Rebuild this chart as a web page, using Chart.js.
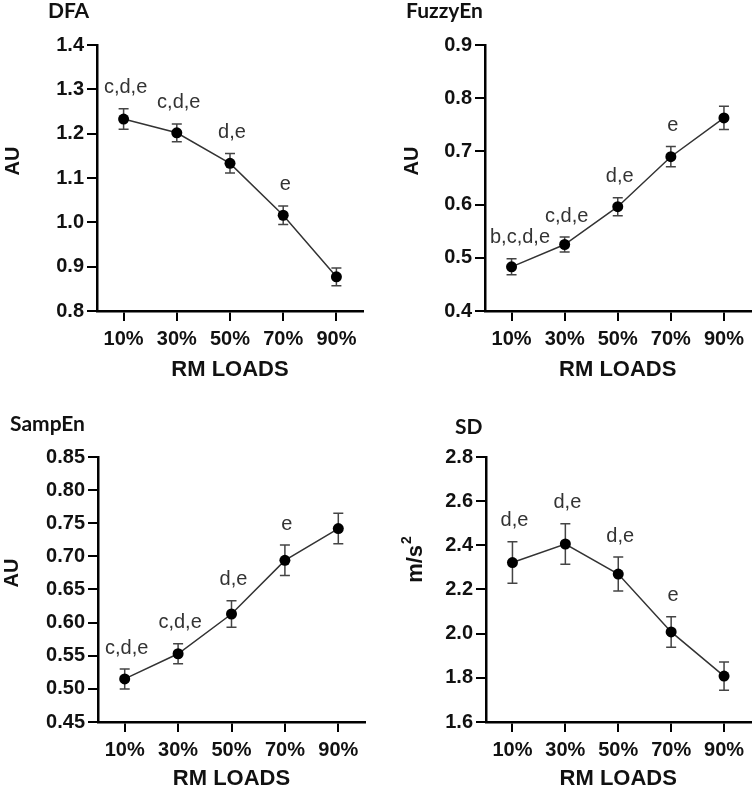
<!DOCTYPE html>
<html>
<head>
<meta charset="utf-8">
<script src="https://cdn.jsdelivr.net/npm/chart.js@4.4.1/dist/chart.umd.min.js"></script>
<style>
  body { margin: 0; background: #fff; }
  #wrap { position: relative; width: 756px; height: 789px; }
  canvas { position: absolute; }
</style>
</head>
<body>
<div id="wrap">
  <canvas id="c1" width="378" height="390" style="left:0;top:0"></canvas>
  <canvas id="c2" width="378" height="390" style="left:378px;top:0"></canvas>
  <canvas id="c3" width="378" height="399" style="left:0;top:390px"></canvas>
  <canvas id="c4" width="378" height="399" style="left:378px;top:390px"></canvas>
</div>
<script>
// categories
const loads = ["10%", "30%", "50%", "70%", "90%"];

// DFA
const dfaMean = [1.233, 1.202, 1.133, 1.016, 0.877];
const dfaErr = [0.023, 0.020, 0.022, 0.021, 0.020];
const dfaSig = ["c,d,e", "c,d,e", "d,e", "e", ""];
const dfaTicks = [0.8, 0.9, 1.0, 1.1, 1.2, 1.3, 1.4];

// FuzzyEn
const fuzzyMean = [0.483, 0.525, 0.596, 0.690, 0.763];
const fuzzyErr = [0.015, 0.014, 0.017, 0.019, 0.022];
const fuzzySig = ["b,c,d,e", "c,d,e", "d,e", "e", ""];
const fuzzyTicks = [0.4, 0.5, 0.6, 0.7, 0.8, 0.9];

// SampEn
const sampMean = [0.515, 0.553, 0.613, 0.694, 0.742];
const sampErr = [0.015, 0.015, 0.020, 0.023, 0.023];
const sampSig = ["c,d,e", "c,d,e", "d,e", "e", ""];
const sampTicks = [0.45, 0.50, 0.55, 0.60, 0.65, 0.70, 0.75, 0.80, 0.85];

// SD
const sdMean = [2.322, 2.406, 2.270, 2.008, 1.808];
const sdErr = [0.094, 0.092, 0.077, 0.069, 0.064];
const sdSig = ["d,e", "d,e", "d,e", "e", ""];
const sdTicks = [1.6, 1.8, 2.0, 2.2, 2.4, 2.6, 2.8];

const FONT = "'Liberation Sans', Arial, sans-serif";
const TITLE_FONT = "Lato, 'Open Sans', sans-serif";

// draws error bars, panel title, y title and the letters above points
function panelPlugin(p) {
  return {
    id: "panel",
    beforeDatasetsDraw(chart) {
      const { ctx, scales: { x, y } } = chart;
      ctx.save();
      ctx.strokeStyle = "#444";
      ctx.lineWidth = 1.5;
      p.mean.forEach((m, i) => {
        const px = x.getPixelForValue(i);
        const top = y.getPixelForValue(m + p.err[i]);
        const bot = y.getPixelForValue(m - p.err[i]);
        ctx.beginPath();
        ctx.moveTo(px, top); ctx.lineTo(px, bot);
        ctx.moveTo(px - 5, top); ctx.lineTo(px + 5, top);
        ctx.moveTo(px - 5, bot); ctx.lineTo(px + 5, bot);
        ctx.stroke();
      });
      ctx.restore();
    },
    afterDraw(chart) {
      const { ctx, chartArea, scales: { x, y } } = chart;
      ctx.save();
      // panel title
      ctx.fillStyle = "#111";
      ctx.font = "bold 21px " + TITLE_FONT;
      ctx.textAlign = "left";
      ctx.textBaseline = "middle";
      ctx.fillText(p.title, p.tx, p.ty);

      // y axis title
      ctx.save();
      ctx.translate(p.ytx, p.yty);
      ctx.rotate(-Math.PI / 2);
      ctx.textAlign = "center";
      if (p.sup) {
        ctx.font = "bold 22px " + FONT;
        const w = ctx.measureText(p.yTitle).width;
        ctx.font = "bold 14px " + FONT;
        const ws = ctx.measureText(p.sup).width;
        const start = -(w + ws) / 2;
        ctx.textAlign = "left";
        ctx.font = "bold 22px " + FONT;
        ctx.fillText(p.yTitle, start, 0);
        ctx.font = "bold 14px " + FONT;
        ctx.fillText(p.sup, start + w + 1, -9);
      } else {
        ctx.font = "bold 20px " + FONT;
        ctx.fillText(p.yTitle, 0, 0);
      }
      ctx.restore();

      // significance letters
      ctx.fillStyle = "#333";
      ctx.font = "20px " + FONT;
      ctx.textAlign = "left";
      p.sig.forEach((s, i) => {
        if (!s) return;
        const w = ctx.measureText(s).width;
        const px = x.getPixelForValue(i);
        const left = Math.max(px - w / 2 + 2, chartArea.left + 5);
        const top = y.getPixelForValue(p.mean[i] + p.err[i]);
        ctx.fillText(s, left, top - 21);
      });
      ctx.restore();
    }
  };
}

function makePanel(p) {
  const W = 378;
  const [aL, aR, aT, aB] = p.area;
  new Chart(document.getElementById(p.id), {
    type: "line",
    data: {
      labels: loads,
      datasets: [{
        data: p.mean,
        borderColor: "#333",
        borderWidth: 1.5,
        pointRadius: 5.5,
        pointBackgroundColor: "#000",
        pointBorderColor: "#000",
        pointBorderWidth: 0,
        tension: 0,
        fill: false
      }]
    },
    options: {
      responsive: false,
      animation: false,
      events: [],
      layout: {
        padding: { left: 0, top: aT, right: W - aR, bottom: p.h - aB - p.xh }
      },
      plugins: {
        legend: { display: false },
        tooltip: { enabled: false }
      },
      scales: {
        x: {
          type: "category",
          offset: true,
          grid: { offset: false, drawOnChartArea: false, drawTicks: true, tickLength: 10, color: "#000", lineWidth: 2 },
          border: { display: true, color: "#000", width: 2.5 },
          ticks: { color: "#111", font: { family: FONT, size: 20, weight: "bold" }, padding: 6, maxRotation: 0 },
          title: {
            display: true,
            text: "RM LOADS",
            color: "#111",
            font: { family: FONT, size: 22, weight: "bold" },
            padding: { top: 0, bottom: p.xtp }
          },
          afterFit(s) { s.height = p.xh; }
        },
        y: {
          min: p.ticks[0],
          max: p.ticks[p.ticks.length - 1],
          afterBuildTicks(s) { s.ticks = p.ticks.map(v => ({ value: v })); },
          grid: { drawOnChartArea: false, drawTicks: true, tickLength: 10, color: "#000", lineWidth: 2 },
          border: { display: true, color: "#000", width: 2.5 },
          ticks: {
            color: "#111",
            font: { family: FONT, size: 20, weight: "bold" },
            padding: 3,
            callback: v => Number(v).toFixed(p.dec)
          },
          afterFit(s) { s.width = aL; }
        }
      }
    },
    plugins: [panelPlugin(p)]
  });
}

makePanel({ id: "c1", title: "DFA", tx: 48, ty: 11, yTitle: "AU", ytx: 13, yty: 161,
  mean: dfaMean, err: dfaErr, sig: dfaSig, ticks: dfaTicks, dec: 1,
  area: [97, 363, 45, 311], h: 390, xh: 70, xtp: -2 });
makePanel({ id: "c2", title: "FuzzyEn", tx: 28, ty: 11, yTitle: "AU", ytx: 34, yty: 161,
  mean: fuzzyMean, err: fuzzyErr, sig: fuzzySig, ticks: fuzzyTicks, dec: 1,
  area: [107, 374, 45, 311], h: 390, xh: 70, xtp: -2 });
makePanel({ id: "c3", title: "SampEn", tx: 10, ty: 34, yTitle: "AU", ytx: 12, yty: 183,
  mean: sampMean, err: sampErr, sig: sampSig, ticks: sampTicks, dec: 2,
  area: [98, 365, 67, 332], h: 399, xh: 66, xtp: -4 });
makePanel({ id: "c4", title: "SD", tx: 77, ty: 37, yTitle: "m/s", sup: "2", ytx: 38, yty: 170,
  mean: sdMean, err: sdErr, sig: sdSig, ticks: sdTicks, dec: 1,
  area: [108, 375, 67, 332], h: 399, xh: 66, xtp: -4 });
</script>
</body>
</html>
